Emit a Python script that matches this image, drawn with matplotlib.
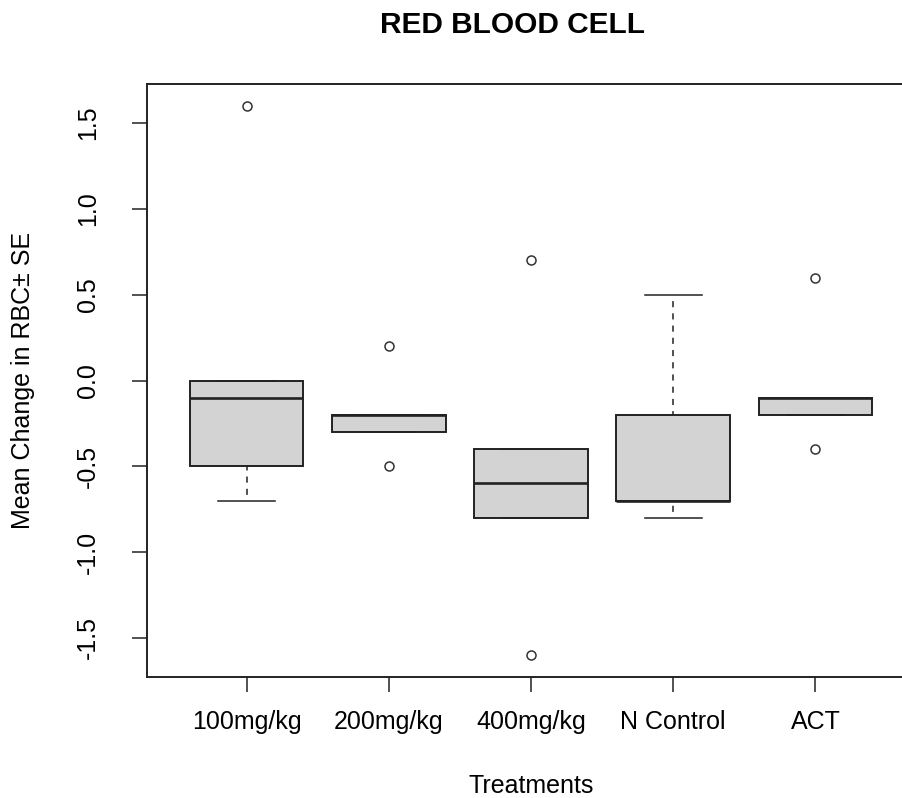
import numpy as np
import matplotlib
matplotlib.use("Agg")
import matplotlib.pyplot as plt

plt.rcParams['font.family'] = ['Liberation Sans', 'DejaVu Sans']

# values
treatments = ['100mg/kg', '200mg/kg', '400mg/kg', 'N Control', 'ACT']
medians = [-0.1, -0.2, -0.6, -0.7, -0.1]
q1s = [-0.5, -0.3, -0.8, -0.7, -0.2]
q3s = [0.0, -0.2, -0.4, -0.2, -0.1]
whisk_lo = [-0.7, -0.3, -0.8, -0.8, -0.2]
whisk_hi = [0.0, -0.2, -0.4, 0.5, -0.1]
outliers = [[1.6], [0.2, -0.5], [0.7, -1.6], [], [0.6, -0.4]]

stats = []
for i, name in enumerate(treatments):
    stats.append(dict(label=name, med=medians[i], q1=q1s[i], q3=q3s[i],
                      whislo=whisk_lo[i], whishi=whisk_hi[i], fliers=outliers[i]))

W, H = 903, 798
fig = plt.figure(figsize=(W / 100, H / 100), dpi=100)
# axes box in pixels: left 147, right 915 (runs off the picture), top 84, bottom 677
ax = fig.add_axes([147 / W, (H - 677) / H, (915 - 147) / W, (677 - 84) / H])

edge = '#222222'
parts = ax.bxp(stats, positions=np.arange(1, 6), widths=0.8, patch_artist=True,
               boxprops=dict(facecolor='#d3d3d3', edgecolor=edge, linewidth=1.4),
               medianprops=dict(color=edge, linewidth=1.9),
               whiskerprops=dict(color=edge, linewidth=1.1, linestyle=(4, (4, 4))),
               capprops=dict(color=edge, linewidth=1.1),
               capwidths=0.4,
               flierprops=dict(marker='o', markersize=6.5, markerfacecolor='none',
                               markeredgecolor='#333333', markeredgewidth=1.1))
# like R, dash the whiskers starting from the staple end
for ln in parts['whiskers']:
    ln.set_data(ln.get_xdata()[::-1], ln.get_ydata()[::-1])

ax.set_xlim(0.3, 5.7)
ax.set_ylim(-1.728, 1.728)
ax.set_yticks([-1.5, -1.0, -0.5, 0.0, 0.5, 1.0, 1.5])
ax.set_yticklabels(['-1.5', '-1.0', '-0.5', '0.0', '0.5', '1.0', '1.5'],
                   rotation=90, va='center')
ax.set_xticks(np.arange(1, 6))
ax.set_xticklabels(treatments)

for s in ax.spines.values():
    s.set_linewidth(1.4)
    s.set_color(edge)
ax.tick_params(axis='both', length=10.8, width=1.1, color=edge, labelsize=18)
ax.tick_params(axis='y', pad=23)
ax.tick_params(axis='x', pad=13)

ax.set_xlabel('Treatments', fontsize=18, va='center')
ax.xaxis.set_label_coords(0.5, (677 - 786) / (677 - 84))
ax.set_ylabel('Mean Change in RBC\u00b1 SE', fontsize=18, va='center')
ax.yaxis.set_label_coords((23 - 147) / (915 - 147), 0.5)

fig.text(513 / W, 1 - 25 / H, 'RED BLOOD CELL', fontsize=21.5, fontweight='bold',
         ha='center', va='center')

fig.savefig('out.png', dpi=100)
